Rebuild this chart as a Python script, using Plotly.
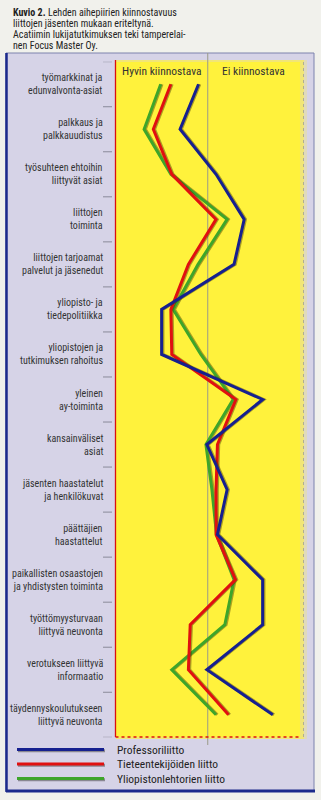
import plotly.graph_objects as go

W, H = 321, 800

categories = [
    "työmarkkinat ja<br>edunvalvonta-asiat",
    "palkkaus ja<br>palkkauudistus",
    "työsuhteen ehtoihin<br>liittyvät asiat",
    "liittojen<br>toiminta",
    "liittojen tarjoamat<br>palvelut ja jäsenedut",
    "yliopisto- ja<br>tiedepolitiikka",
    "yliopistojen ja<br>tutkimuksen rahoitus",
    "yleinen<br>ay-toiminta",
    "kansainväliset<br>asiat",
    "jäsenten haastatelut<br>ja henkilökuvat",
    "päättäjien<br>haastattelut",
    "paikallisten osaastojen<br>ja yhdistysten toiminta",
    "työttömyysturvaan<br>liittyvä neuvonta",
    "verotukseen liittyvä<br>informaatio",
    "täydennyskoulutukseen<br>liittyvä neuvonta",
]

professoriliitto = [2.80, 2.40, 3.18, 3.79, 3.57, 2.00, 2.00, 4.19, 2.98, 3.42, 3.21, 4.19, 4.19, 2.98, 4.41]
tieteentekijoiden_liitto = [2.20, 1.82, 2.22, 3.18, 2.58, 2.20, 2.22, 3.61, 3.21, 3.18, 3.18, 3.60, 2.62, 2.58, 3.45]
yliopistonlehtorien_liitto = [1.98, 1.62, 2.20, 3.42, 2.79, 2.25, 2.85, 3.55, 2.96, 3.09, 3.19, 3.57, 3.37, 2.22, 3.18]

series_names = ["Professoriliitto", "Tieteentekijöiden liitto", "Yliopistonlehtorien liitto"]
series_colors = ["#16208f", "#e01010", "#3ea52a"]
series_values = [professoriliitto, tieteentekijoiden_liitto, yliopistonlehtorien_liitto]

header_labels = ["Hyvin kiinnostava", "Ei kiinnostava"]
header_positions = [2, 4]

title_lines = [
    "<b>Kuvio 2.</b> Lehden aihepiirien kiinnostavuus",
    "liittojen jäsenten mukaan eriteltynä.",
    "Acatiimin lukijatutkimuksen teki tamperelai-",
    "nen Focus Master Oy.",
]

FONT = "Liberation Sans Narrow, Arial Narrow, Roboto Condensed, Liberation Sans, sans-serif"

def px(x):
    return x / W

def py(y):
    return 1 - y / H

fig = go.Figure()

# shadows then lines (green, red, blue on top)
for name, color, vals in reversed(list(zip(series_names, series_colors, series_values))):
    fig.add_trace(go.Scatter(
        x=[v + 0.028 for v in vals], y=categories, mode="lines",
        line=dict(color="rgba(70,60,0,0.45)", width=3),
        hoverinfo="skip", showlegend=False,
    ))
    fig.add_trace(go.Scatter(
        x=vals, y=categories, mode="lines", name=name,
        line=dict(color=color, width=3),
        showlegend=False,
    ))

shapes = []
# outer box
shapes.append(dict(type="rect", xref="paper", yref="paper", x0=px(6), x1=px(314), y0=py(791), y1=py(53),
                   fillcolor="#d6d3e7", line=dict(color="#7c82ad", width=1), layer="below"))
shapes.append(dict(type="line", xref="paper", yref="paper", x0=px(6.5), x1=px(6.5), y0=py(792), y1=py(53),
                   line=dict(color="#1c2a8c", width=2.5), layer="below"))
shapes.append(dict(type="line", xref="paper", yref="paper", x0=px(6), x1=px(315), y0=py(791), y1=py(791),
                   line=dict(color="#1c2a8c", width=3), layer="below"))
# yellow glow + panel
for x1, op in [(307, 0.25), (304, 0.55)]:
    shapes.append(dict(type="rect", xref="paper", yref="paper", x0=px(116), x1=px(x1), y0=py(739), y1=py(60),
                       fillcolor=f"rgba(255,240,60,{op})", line=dict(width=0), layer="below"))
shapes.append(dict(type="rect", xref="paper", yref="paper", x0=px(116), x1=px(300), y0=py(737), y1=py(62),
                   fillcolor="#fff23c", line=dict(width=0), layer="below"))
# dotted right edge
shapes.append(dict(type="line", xref="paper", yref="paper", x0=px(303.5), x1=px(303.5), y0=py(737), y1=py(62),
                   line=dict(color="#b0ae90", width=1, dash="dot"), layer="below"))
# mid line
shapes.append(dict(type="line", xref="x", yref="paper", x0=3, x1=3, y0=py(745), y1=py(53),
                   line=dict(color="#9a9a88", width=1), layer="below"))
# red left axis line
shapes.append(dict(type="line", xref="paper", yref="paper", x0=px(115.5), x1=px(115.5), y0=py(737), y1=py(60),
                   line=dict(color="#d81010", width=1.3), layer="below"))
# red dotted bottom
shapes.append(dict(type="line", xref="paper", yref="paper", x0=px(115.5), x1=px(300), y0=py(737), y1=py(737),
                   line=dict(color="#e01010", width=1.5, dash="dot"), layer="below"))
# tick marks at category boundaries
for i in range(len(categories) + 1):
    shapes.append(dict(type="line", xref="paper", yref="y", x0=px(103), x1=px(112), y0=i - 0.5, y1=i - 0.5,
                       line=dict(color="#8a8a99", width=1)))
# legend lines
legend_y = [749.5, 764, 778.5]
for color, ly in zip(series_colors, legend_y):
    shapes.append(dict(type="line", xref="paper", yref="paper", x0=px(18), x1=px(105), y0=py(ly + 1.2), y1=py(ly + 1.2),
                       line=dict(color="rgba(60,60,60,0.5)", width=3)))
    shapes.append(dict(type="line", xref="paper", yref="paper", x0=px(17), x1=px(104), y0=py(ly), y1=py(ly),
                       line=dict(color=color, width=3)))

annotations = []
# category labels
for c in categories:
    annotations.append(dict(x=px(105), xref="paper", y=c, yref="y", text=c, showarrow=False,
                            xanchor="right", yanchor="middle", align="right",
                            font=dict(family=FONT, size=10, color="#333333")))
# headers
for t, xv in zip(header_labels, header_positions):
    annotations.append(dict(x=xv, xref="x", y=py(71), yref="paper", text=t, showarrow=False,
                            xanchor="center", yanchor="middle",
                            font=dict(family=FONT, size=11.5, color="#333333")))
# title lines
for i, t in enumerate(title_lines):
    annotations.append(dict(x=px(11), xref="paper", y=py(12 + i * 11.2), yref="paper", text=t, showarrow=False,
                            xanchor="left", yanchor="middle", align="left",
                            font=dict(family=FONT, size=10, color="#222222")))
# legend texts
for name, ly in zip(series_names, legend_y):
    annotations.append(dict(x=px(115), xref="paper", y=py(ly), yref="paper", text=name, showarrow=False,
                            xanchor="left", yanchor="middle",
                            font=dict(family=FONT, size=11.5, color="#222222")))

fig.update_layout(
    width=W, height=H, autosize=False,
    margin=dict(l=0, r=0, t=0, b=0),
    paper_bgcolor="#f1f1ec", plot_bgcolor="rgba(0,0,0,0)",
    shapes=shapes, annotations=annotations, showlegend=False,
    xaxis=dict(domain=[px(115.5), px(300)], range=[1, 5], showgrid=False, zeroline=False,
               showticklabels=False, ticks="", fixedrange=True),
    yaxis=dict(domain=[py(737.3), py(61.7)], type="category", categoryorder="array",
               categoryarray=categories, range=[len(categories) - 0.5, -0.5],
               showgrid=False, zeroline=False, showticklabels=False, ticks="", fixedrange=True),
)

fig.write_html("out.html")
